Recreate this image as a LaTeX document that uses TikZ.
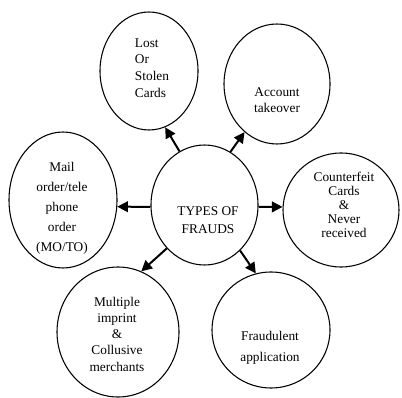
\documentclass[tikz,border=0pt]{standalone}
\usepackage{fontspec}
\setmainfont{Liberation Serif}
\usetikzlibrary{shapes.geometric,arrows.meta}

\begin{document}
\begin{tikzpicture}[x=0.75pt,y=-0.75pt,
    oval/.style={ellipse,draw,line width=0.8pt,inner sep=0pt},
    lbl/.style={align=center,inner sep=0pt,font=\fontsize{10}{#1}\selectfont},
    lbl/.default=12pt,
    fraud/.style={-{Triangle[length=8pt,width=8pt]},line width=1.5pt}]
            \useasboundingbox (0,0) rectangle (402,398);
            \begin{scope}[every node/.style={oval}]
                \node[minimum width=80.25pt,minimum height=90pt] (TYPES) at (204.5,205) {};

                \node[minimum width=73.5pt,minimum height=88.5pt] (LOST) at (149,71) {};
                \node[minimum width=79.5pt,minimum height=90pt] (ACC) at (277,84) {};

                \node[minimum width=81pt,minimum height=102pt] (MAIL) at (63,200) {};
                \node[minimum width=87pt,minimum height=85.5pt] (CTF) at (341,210) {};

                \node[minimum width=91.5pt,minimum height=97.5pt] (MULT) at (118,332) {};
                \node[minimum width=88.5pt,minimum height=87pt] (APP) at (271,330) {};
            \end{scope}
            % texts
            \node[lbl=13.5pt] (TYPES-t) at (208,220) {TYPES OF\\FRAUDS};
            \node[lbl=12.5pt,align=left] (LOST-t) at (152,68) {Lost\\Or\\Stolen\\Cards};
            \node[lbl] (ACC-t) at (277,100) {Account\\takeover};
            \node[lbl=15pt] (MAIL-t) at (62,208) {Mail\\order/tele\\phone\\order\\(MO/TO)};
            \node[lbl=10.5pt] (CTF-t) at (344,205) {Counterfeit\\Cards\\\&\\Never\\received};
            \node[lbl=12.2pt] (MULT-t) at (117,334) {Multiple\\imprint\\\&\\Collusive\\merchants};
            \node[lbl=15.5pt] (APP-t) at (270,348) {Fraudulent\\application};

                \path [fraud] (TYPES.115) edge (LOST.-74);
                \path [fraud] (TYPES.64) edge (ACC.236);
                \path [fraud] (TYPES.182) edge (MAIL.-7);
                \path [fraud] (TYPES.-2) edge (CTF.177);
                \path [fraud] (TYPES.229) edge (MULT.69);
                \path [fraud] (TYPES.-52) edge (APP.105);
            \end{tikzpicture}
\end{document}
